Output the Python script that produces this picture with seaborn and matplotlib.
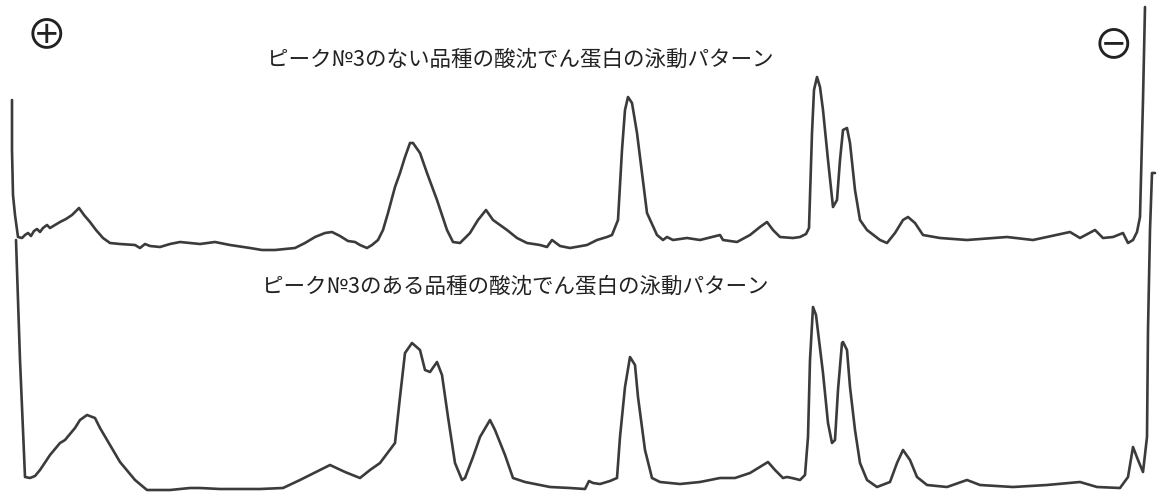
import matplotlib
matplotlib.use("Agg")
import matplotlib.pyplot as plt
import seaborn as sns
import pandas as pd

# Densitometer traces of two electrophoresis strips.
# Position along the strip (x) and recorder pen position (y, drawn downward).
top_position = [12, 12, 13, 15, 18, 22, 25, 28, 31, 34, 37, 40, 43, 47, 50, 55, 60, 66, 72, 79,
                84, 90, 96, 103, 110, 120, 135, 140, 145, 150, 160, 170, 180, 200, 215, 230, 250,
                262, 275, 285, 295, 305, 315, 325, 332, 340, 348, 355, 360, 367, 372, 378, 383,
                388, 395, 400, 405, 410, 413, 420, 427, 437, 447, 453, 460, 470, 478, 486, 493,
                507, 517, 527, 540, 547, 552, 560, 570, 587, 597, 607, 612, 618, 622, 625, 628,
                632, 637, 642, 647, 657, 663, 667, 673, 687, 700, 720, 723, 737, 750, 760, 767,
                773, 780, 793, 800, 806, 809, 812, 814, 817, 820, 823, 828, 833, 837, 840, 843,
                847, 850, 855, 860, 867, 880, 887, 895, 903, 908, 915, 923, 940, 967, 1007, 1033,
                1070, 1080, 1095, 1103, 1113, 1123, 1128, 1133, 1137, 1140, 1143, 1145]
top_reading = [100, 150, 195, 215, 237, 238, 235, 233, 236, 231, 229, 232, 228, 225, 228, 225, 222,
               219, 215, 208, 215, 222, 230, 238, 243, 244, 245, 248, 244, 246, 247, 244, 242, 244,
               242, 245, 248, 250, 250, 249, 248, 243, 237, 233, 232, 236, 241, 242, 245, 248, 245,
               240, 230, 213, 187, 173, 157, 143, 143, 153, 173, 200, 230, 242, 243, 233, 220, 210,
               220, 230, 238, 243, 245, 247, 240, 246, 248, 245, 240, 237, 235, 220, 150, 110, 97,
               103, 133, 173, 213, 235, 240, 237, 240, 238, 240, 235, 240, 242, 235, 227, 222, 230,
               237, 238, 237, 234, 228, 133, 90, 77, 87, 110, 160, 207, 200, 160, 130, 128, 143,
               190, 220, 230, 240, 243, 233, 220, 217, 223, 235, 238, 240, 237, 240, 232, 238, 230,
               238, 237, 233, 243, 240, 232, 217, 100, 7]

bottom_position = [16, 20, 25, 30, 35, 40, 50, 60, 65, 75, 80, 87, 95, 100, 110, 120, 135, 147,
                   170, 190, 200, 220, 260, 283, 300, 320, 330, 345, 360, 370, 380, 395, 400, 405,
                   412, 420, 425, 430, 437, 442, 448, 455, 462, 465, 473, 480, 490, 495, 505, 513,
                   525, 540, 550, 570, 585, 589, 593, 600, 610, 617, 620, 625, 630, 635, 638, 645,
                   652, 660, 680, 700, 720, 735, 750, 768, 775, 783, 787, 792, 800, 805, 808, 810,
                   813, 816, 819, 823, 828, 832, 835, 838, 842, 843, 847, 850, 855, 860, 867, 877,
                   890, 897, 903, 910, 917, 927, 947, 967, 980, 1013, 1047, 1080, 1097, 1120, 1128,
                   1133, 1138, 1143, 1147, 1148, 1150, 1152, 1155]
bottom_reading = [240, 360, 477, 478, 476, 470, 455, 443, 440, 428, 420, 415, 418, 428, 445, 462,
                  480, 490, 490, 488, 488, 489, 489, 488, 480, 470, 465, 472, 478, 470, 463, 443,
                  397, 353, 343, 350, 370, 372, 362, 375, 417, 463, 480, 478, 457, 437, 420, 430,
                  455, 478, 482, 485, 487, 488, 489, 481, 483, 484, 481, 478, 437, 387, 357, 365,
                  397, 450, 478, 482, 484, 482, 478, 478, 473, 462, 470, 478, 477, 478, 480, 475,
                  437, 360, 307, 315, 340, 373, 423, 443, 440, 390, 343, 342, 350, 387, 430, 463,
                  480, 487, 482, 463, 450, 460, 477, 485, 487, 480, 485, 487, 485, 482, 487, 488,
                  477, 447, 460, 472, 437, 330, 230, 173, 173]

titles = ["ピーク№3のない品種の酸沈でん蛋白の泳動パターン",
          "ピーク№3のある品種の酸沈でん蛋白の泳動パターン"]
title_anchor_x = [520, 515]
title_anchor_y = [60, 287]
pole_signs = ["⊕", "⊖"]
pole_x = [46, 1113]
pole_y = [37, 47]

sns.set_theme(style="white")
plt.rcParams["font.family"] = ["Noto Sans CJK JP", "DejaVu Sans"]

fig = plt.figure(figsize=(11.63, 4.92), dpi=100)
ax = fig.add_axes([0, 0, 1, 1])
ax.set_xlim(0, 1163)
ax.set_ylim(492, 0)
ax.set_axis_off()

ink = "#3b3b3b"
traces = pd.concat([
    pd.DataFrame({"position": top_position, "reading": top_reading, "strip": "top"}),
    pd.DataFrame({"position": bottom_position, "reading": bottom_reading, "strip": "bottom"}),
])
for strip, df in traces.groupby("strip", sort=False):
    sns.lineplot(data=df, x="position", y="reading", sort=False, estimator=None,
                 color=ink, linewidth=1.9, solid_joinstyle="round",
                 solid_capstyle="round", ax=ax)

for text, x, y in zip(titles, title_anchor_x, title_anchor_y):
    ax.text(x, y, text, ha="center", va="center", fontsize=15.5, color="#222222")

# Anode and cathode marks
for sign, x, y in zip(pole_signs, pole_x, pole_y):
    ax.text(x, y, sign, ha="center", va="center", fontsize=30,
            family=["Noto Sans CJK JP", "DejaVu Sans"], color="#222222")

ax.set_xlabel("")
ax.set_ylabel("")
fig.savefig("out.png", dpi=100, facecolor="white")
